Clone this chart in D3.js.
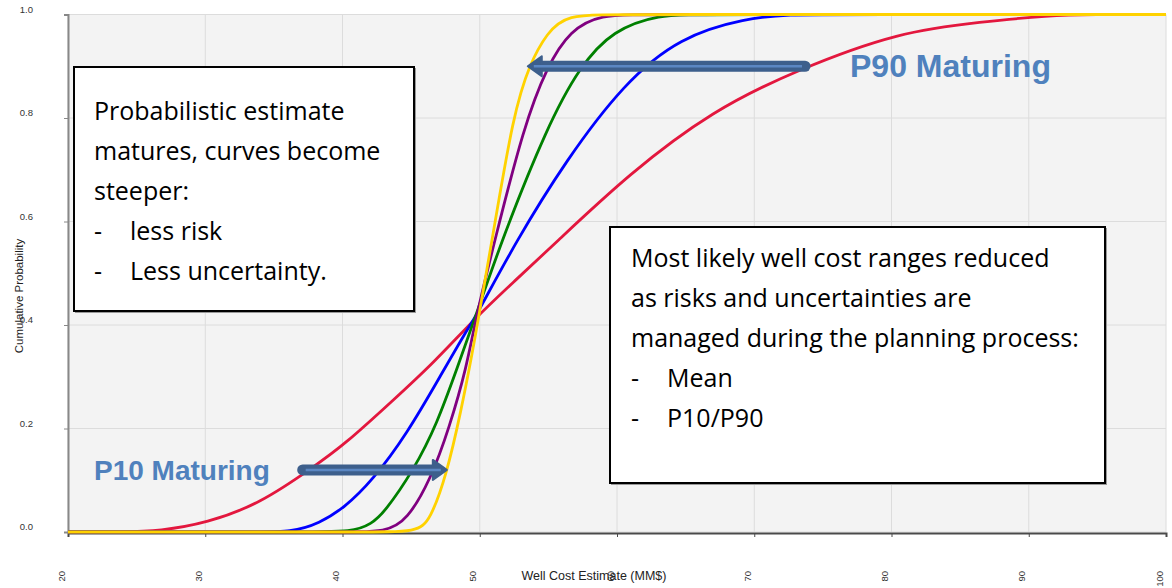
<!DOCTYPE html>
<html>
<head>
<meta charset="utf-8">
<script src="https://cdn.jsdelivr.net/npm/d3@7"></script>
<style>
  body { margin: 0; background: #fff; }
  svg { display: block; }
</style>
</head>
<body>
<div id="chart"></div>
<script>
// ticks
const xTicks = [20, 30, 40, 50, 60, 70, 80, 90, 100];
const yTicks = [0, 0.2, 0.4, 0.6, 0.8, 1.0];

// cumulative probability curves: [cost MM$, probability]
const redCurve = [[20,0],[24,0],[26.7,0.002],[30.1,0.017],[34,0.055],[37.9,0.126],[40.1,0.168],[43.7,0.255],[46.6,0.326],[49.65,0.413],[52.5,0.484],[55.3,0.553],[60.9,0.693],[67,0.815],[73.1,0.893],[80.6,0.967],[86.6,0.986],[91.5,0.998],[94.5,1],[100,1]];
const blueCurve = [[20,0],[33,0],[36.4,0],[38.3,0.017],[40.1,0.046],[42.2,0.1],[44.7,0.19],[47.1,0.3],[49.05,0.39],[49.65,0.413],[52.6,0.56],[56.3,0.719],[60.5,0.867],[64.6,0.957],[69.4,0.993],[72.6,1],[76,1],[100,1]];
const greenCurve = [[20,0],[37,0],[40.8,0],[42.1,0.016],[43,0.036],[45.2,0.12],[46.9,0.21],[48.3,0.313],[49.65,0.413],[51.6,0.564],[54.9,0.783],[57.3,0.9],[59.7,0.97],[63.1,1],[66,1],[100,1]];
const purpleCurve = [[20,0],[40,0],[43.2,0],[44.7,0.023],[46.4,0.1],[47.8,0.203],[49.05,0.319],[49.7,0.413],[51.1,0.564],[53.2,0.783],[54.9,0.9],[56.6,0.97],[58.8,1],[62,1],[100,1]];
const yellowCurve = [[20,0],[42,0],[45.4,0],[46.4,0.023],[47.6,0.113],[48.6,0.229],[49.5,0.352],[49.9,0.413],[50.9,0.564],[52.45,0.809],[53.66,0.906],[54.9,0.964],[56.3,1],[60,1],[100,1]];

const curves = [
  { name: 'red', color: '#e3173e', points: redCurve },
  { name: 'blue', color: '#0000ff', points: blueCurve },
  { name: 'green', color: '#008000', points: greenCurve },
  { name: 'purple', color: '#800080', points: purpleCurve },
  { name: 'yellow', color: '#ffd200', points: yellowCurve }
];

// arrows in data units
const p10Arrow = { from: [37.1, 0.12], to: [47.6, 0.12] };
const p90Arrow = { from: [73.7, 0.9], to: [53.5, 0.9] };

const leftNote = ['Probabilistic estimate', 'matures, curves become', 'steeper:', ['-', 'less risk'], ['-', 'Less uncertainty.']];
const rightNote = ['Most likely well cost ranges reduced', 'as risks and uncertainties are', 'managed during the planning process:', ['-', 'Mean'], ['-', 'P10/P90']];

const width = 1172, height = 588;
const svg = d3.select('#chart').append('svg').attr('width', width).attr('height', height);

const x = d3.scaleLinear().domain([20, 100]).range([68, 1166]);
const y = d3.scaleLinear().domain([0, 1]).range([532, 14.5]);

// plot background + grid
svg.append('rect')
  .attr('x', x(20)).attr('y', y(1))
  .attr('width', x(100) - x(20)).attr('height', y(0) - y(1))
  .attr('fill', '#f3f3f3');

svg.append('g').selectAll('line').data(xTicks).join('line')
  .attr('x1', d => x(d)).attr('x2', d => x(d))
  .attr('y1', y(1)).attr('y2', y(0))
  .attr('stroke', '#dcdcdc').attr('stroke-width', 1);
svg.append('g').selectAll('line').data(yTicks).join('line')
  .attr('x1', x(20)).attr('x2', x(100))
  .attr('y1', d => y(d)).attr('y2', d => y(d))
  .attr('stroke', '#dcdcdc').attr('stroke-width', 1);

// axes
const xAxis = svg.append('g').attr('transform', `translate(0,${y(0) + 1})`)
  .call(d3.axisBottom(x).tickValues(xTicks).tickSize(4).tickFormat(''));
xAxis.select('.domain').attr('stroke', '#4a4a4a').attr('stroke-width', 2);
xAxis.selectAll('.tick line').attr('stroke', '#4a4a4a');

const yAxis = svg.append('g').attr('transform', `translate(${x(20)},0)`)
  .call(d3.axisLeft(y).tickValues(yTicks).tickSize(4).tickFormat(''));
yAxis.select('.domain').attr('stroke', '#888').attr('stroke-width', 2);
yAxis.selectAll('.tick line').attr('stroke', '#888');

svg.append('g').selectAll('text').data(yTicks).join('text')
  .attr('x', 33).attr('y', d => y(d) - 2)
  .attr('text-anchor', 'end')
  .attr('font-family', 'Liberation Sans, Arial, sans-serif')
  .attr('font-size', 9.5).attr('fill', '#333')
  .text(d3.format('.1f'));

svg.append('g').selectAll('text').data(xTicks).join('text')
  .attr('transform', d => `translate(${x(d) - 3.5},571) rotate(-90)`)
  .attr('text-anchor', 'end')
  .attr('font-family', 'Liberation Sans, Arial, sans-serif')
  .attr('font-size', 9.5).attr('fill', '#333')
  .text(d => d);

svg.append('text')
  .attr('transform', `translate(23,296) rotate(-90)`)
  .attr('text-anchor', 'middle')
  .attr('font-family', 'Liberation Sans, Arial, sans-serif')
  .attr('font-size', 11.5).attr('fill', '#222')
  .text('Cumulative Probability');

svg.append('text')
  .attr('x', 594).attr('y', 580)
  .attr('text-anchor', 'middle')
  .attr('font-family', 'Liberation Sans, Arial, sans-serif')
  .attr('font-size', 12.5).attr('fill', '#222')
  .text('Well Cost Estimate (MM$)');

// curves
const line = d3.line().x(d => x(d[0])).y(d => y(d[1])).curve(d3.curveBasis);
svg.append('g').selectAll('path').data(curves).join('path')
  .attr('d', d => line(d.points))
  .attr('fill', 'none')
  .attr('stroke', d => d.color)
  .attr('stroke-width', 2.8);

// text boxes
function noteBox(lines, bx, by, bw, bh, tx, ty, indent) {
  const g = svg.append('g');
  g.append('rect').attr('x', bx + 1.5).attr('y', by + 1.5).attr('width', bw).attr('height', bh)
    .attr('fill', 'none').attr('stroke', '#999').attr('stroke-width', 1);
  g.append('rect').attr('x', bx).attr('y', by).attr('width', bw).attr('height', bh)
    .attr('fill', '#fff').attr('stroke', '#000').attr('stroke-width', 2);
  lines.forEach((l, i) => {
    const t = Array.isArray(l) ? l : [null, l];
    if (t[0]) {
      g.append('text').attr('x', tx).attr('y', ty + i * 40)
        .attr('font-family', 'Open Sans, sans-serif')
        .attr('font-size', 25).attr('fill', '#000').text(t[0]);
    }
    g.append('text').attr('x', t[0] ? tx + indent : tx).attr('y', ty + i * 40)
      .attr('font-family', 'Open Sans, sans-serif')
      .attr('font-size', 25).attr('fill', '#000').text(t[1]);
  });
}
noteBox(leftNote, 74, 67, 340, 244, 94, 120, 36);
noteBox(rightNote, 610, 227, 495, 256, 631, 267, 36);

// arrows
function arrow(a, dir) {
  const g = svg.append('g');
  const x0 = x(a.from[0]), x1 = x(a.to[0]), yy = y(a.from[1]);
  const headLen = 14;
  const bodyEnd = x1 - dir * headLen;
  g.append('line').attr('x1', x0).attr('x2', bodyEnd).attr('y1', yy).attr('y2', yy)
    .attr('stroke', '#3d5f8c').attr('stroke-width', 11).attr('stroke-linecap', 'round');
  g.append('path')
    .attr('d', `M${bodyEnd},${yy - 10}L${x1},${yy}L${bodyEnd},${yy + 10}Z`)
    .attr('fill', '#3d5f8c').attr('stroke', '#3d5f8c').attr('stroke-width', 2)
    .attr('stroke-linejoin', 'round');
  g.append('line').attr('x1', x0 + dir * 3).attr('x2', x1 - dir * 6).attr('y1', yy).attr('y2', yy)
    .attr('stroke', '#5b87c3').attr('stroke-width', 2.5);
}
arrow(p10Arrow, 1);
arrow(p90Arrow, -1);

svg.append('text').attr('x', 94).attr('y', 480)
  .attr('font-family', 'Liberation Sans, Arial, sans-serif')
  .attr('font-weight', 'bold').attr('font-size', 28).attr('fill', '#4f81bd')
  .text('P10 Maturing');
svg.append('text').attr('x', 850).attr('y', 77)
  .attr('font-family', 'Liberation Sans, Arial, sans-serif')
  .attr('font-weight', 'bold').attr('font-size', 32).attr('fill', '#4f81bd')
  .text('P90 Maturing');
</script>
</body>
</html>
